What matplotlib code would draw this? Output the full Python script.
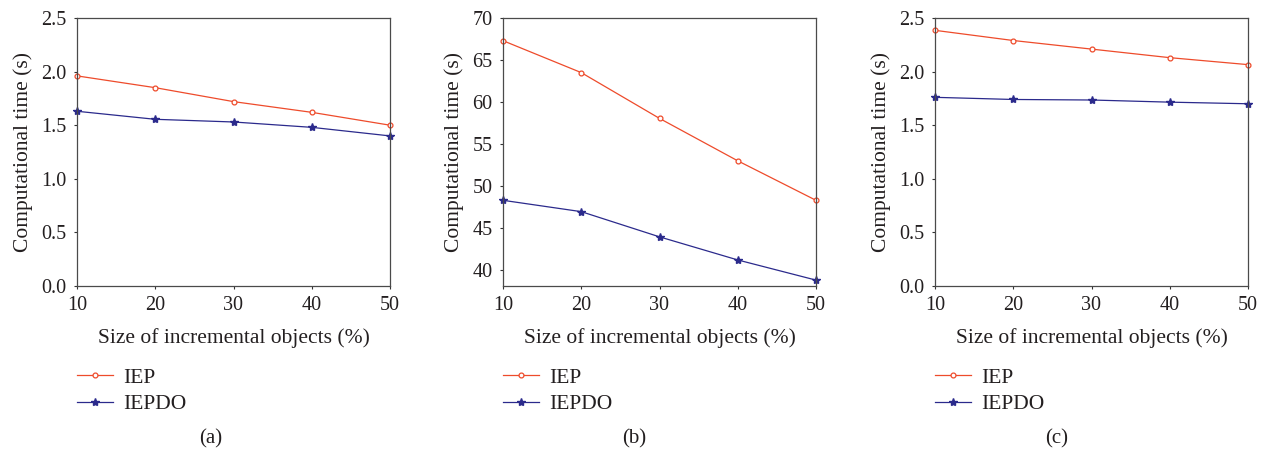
import matplotlib
matplotlib.use("Agg")
import matplotlib.pyplot as plt

plt.rcParams['font.family'] = ['Liberation Serif', 'DejaVu Serif']

x_vals = [10, 20, 30, 40, 50]

iep_a = [1.96, 1.85, 1.72, 1.62, 1.50]
iepdo_a = [1.63, 1.555, 1.53, 1.48, 1.40]

iep_b = [67.3, 63.5, 58.05, 53.0, 48.3]
iepdo_b = [48.3, 46.95, 43.95, 41.2, 38.8]

iep_c = [2.385, 2.29, 2.21, 2.13, 2.065]
iepdo_c = [1.76, 1.74, 1.735, 1.715, 1.70]

ylims = [(0, 2.5), (38.1, 70), (0, 2.5)]
yticks = [[0.0, 0.5, 1.0, 1.5, 2.0, 2.5], [40, 45, 50, 55, 60, 65, 70],
          [0.0, 0.5, 1.0, 1.5, 2.0, 2.5]]
ytick_fmt = ['{:.1f}', '{:d}', '{:.1f}']
captions = ['(a)', '(b)', '(c)']
series_names = ['IEP', 'IEPDO']

W, H = 1269, 458
fig = plt.figure(figsize=(W / 100, H / 100), dpi=100)

txt_color = '#231F20'
red = '#EE4B2B'
blue = '#2B2A8C'

lefts = [77, 503, 935]
right_w = 313
top, bottom = 18, 286

data = [(iep_a, iepdo_a), (iep_b, iepdo_b), (iep_c, iepdo_c)]

for i in range(3):
    l = lefts[i]
    ax = fig.add_axes([l / W, 1 - bottom / H, right_w / W, (bottom - top) / H])
    iep, iepdo = data[i]
    ax.plot(x_vals, iep, color=red, lw=0.9, marker='o', markersize=3.5,
            markerfacecolor='white', markeredgecolor=red, markeredgewidth=0.9,
            label=series_names[0], clip_on=False)
    ax.plot(x_vals, iepdo, color=blue, lw=0.9, marker='*', markersize=6,
            markerfacecolor=blue, markeredgecolor=blue,
            label=series_names[1], clip_on=False)
    ax.set_xlim(10, 50)
    ax.set_ylim(*ylims[i])
    ax.set_xticks(x_vals)
    ax.set_xticklabels([str(v) for v in x_vals])
    ax.set_yticks(yticks[i])
    ax.set_yticklabels([ytick_fmt[i].format(v) for v in yticks[i]])
    ax.tick_params(direction='out', length=2.5, width=0.8, color='#333333',
                   labelsize=14.5, labelcolor=txt_color, pad=5)
    for s in ax.spines.values():
        s.set_color('#4a4a4a')
        s.set_linewidth(0.9)
    ax.set_xlabel('Size of incremental objects (%)', fontsize=15.5,
                  color=txt_color, labelpad=9)
    ax.set_ylabel('Computational time (s)', fontsize=15.5, color=txt_color,
                  labelpad=6)
    ax.legend(loc='center left',
              bbox_to_anchor=((l - 19) / W, 1 - 391 / H),
              bbox_transform=fig.transFigure, frameon=False, fontsize=15.5,
              handlelength=1.65, handletextpad=0.5, labelspacing=0.3,
              labelcolor=txt_color)
    fig.text((i * 423 + 211) / W, 1 - 439 / H, captions[i], ha='center',
             va='center', fontsize=15, color=txt_color)

fig.savefig('out.png', dpi=100)
